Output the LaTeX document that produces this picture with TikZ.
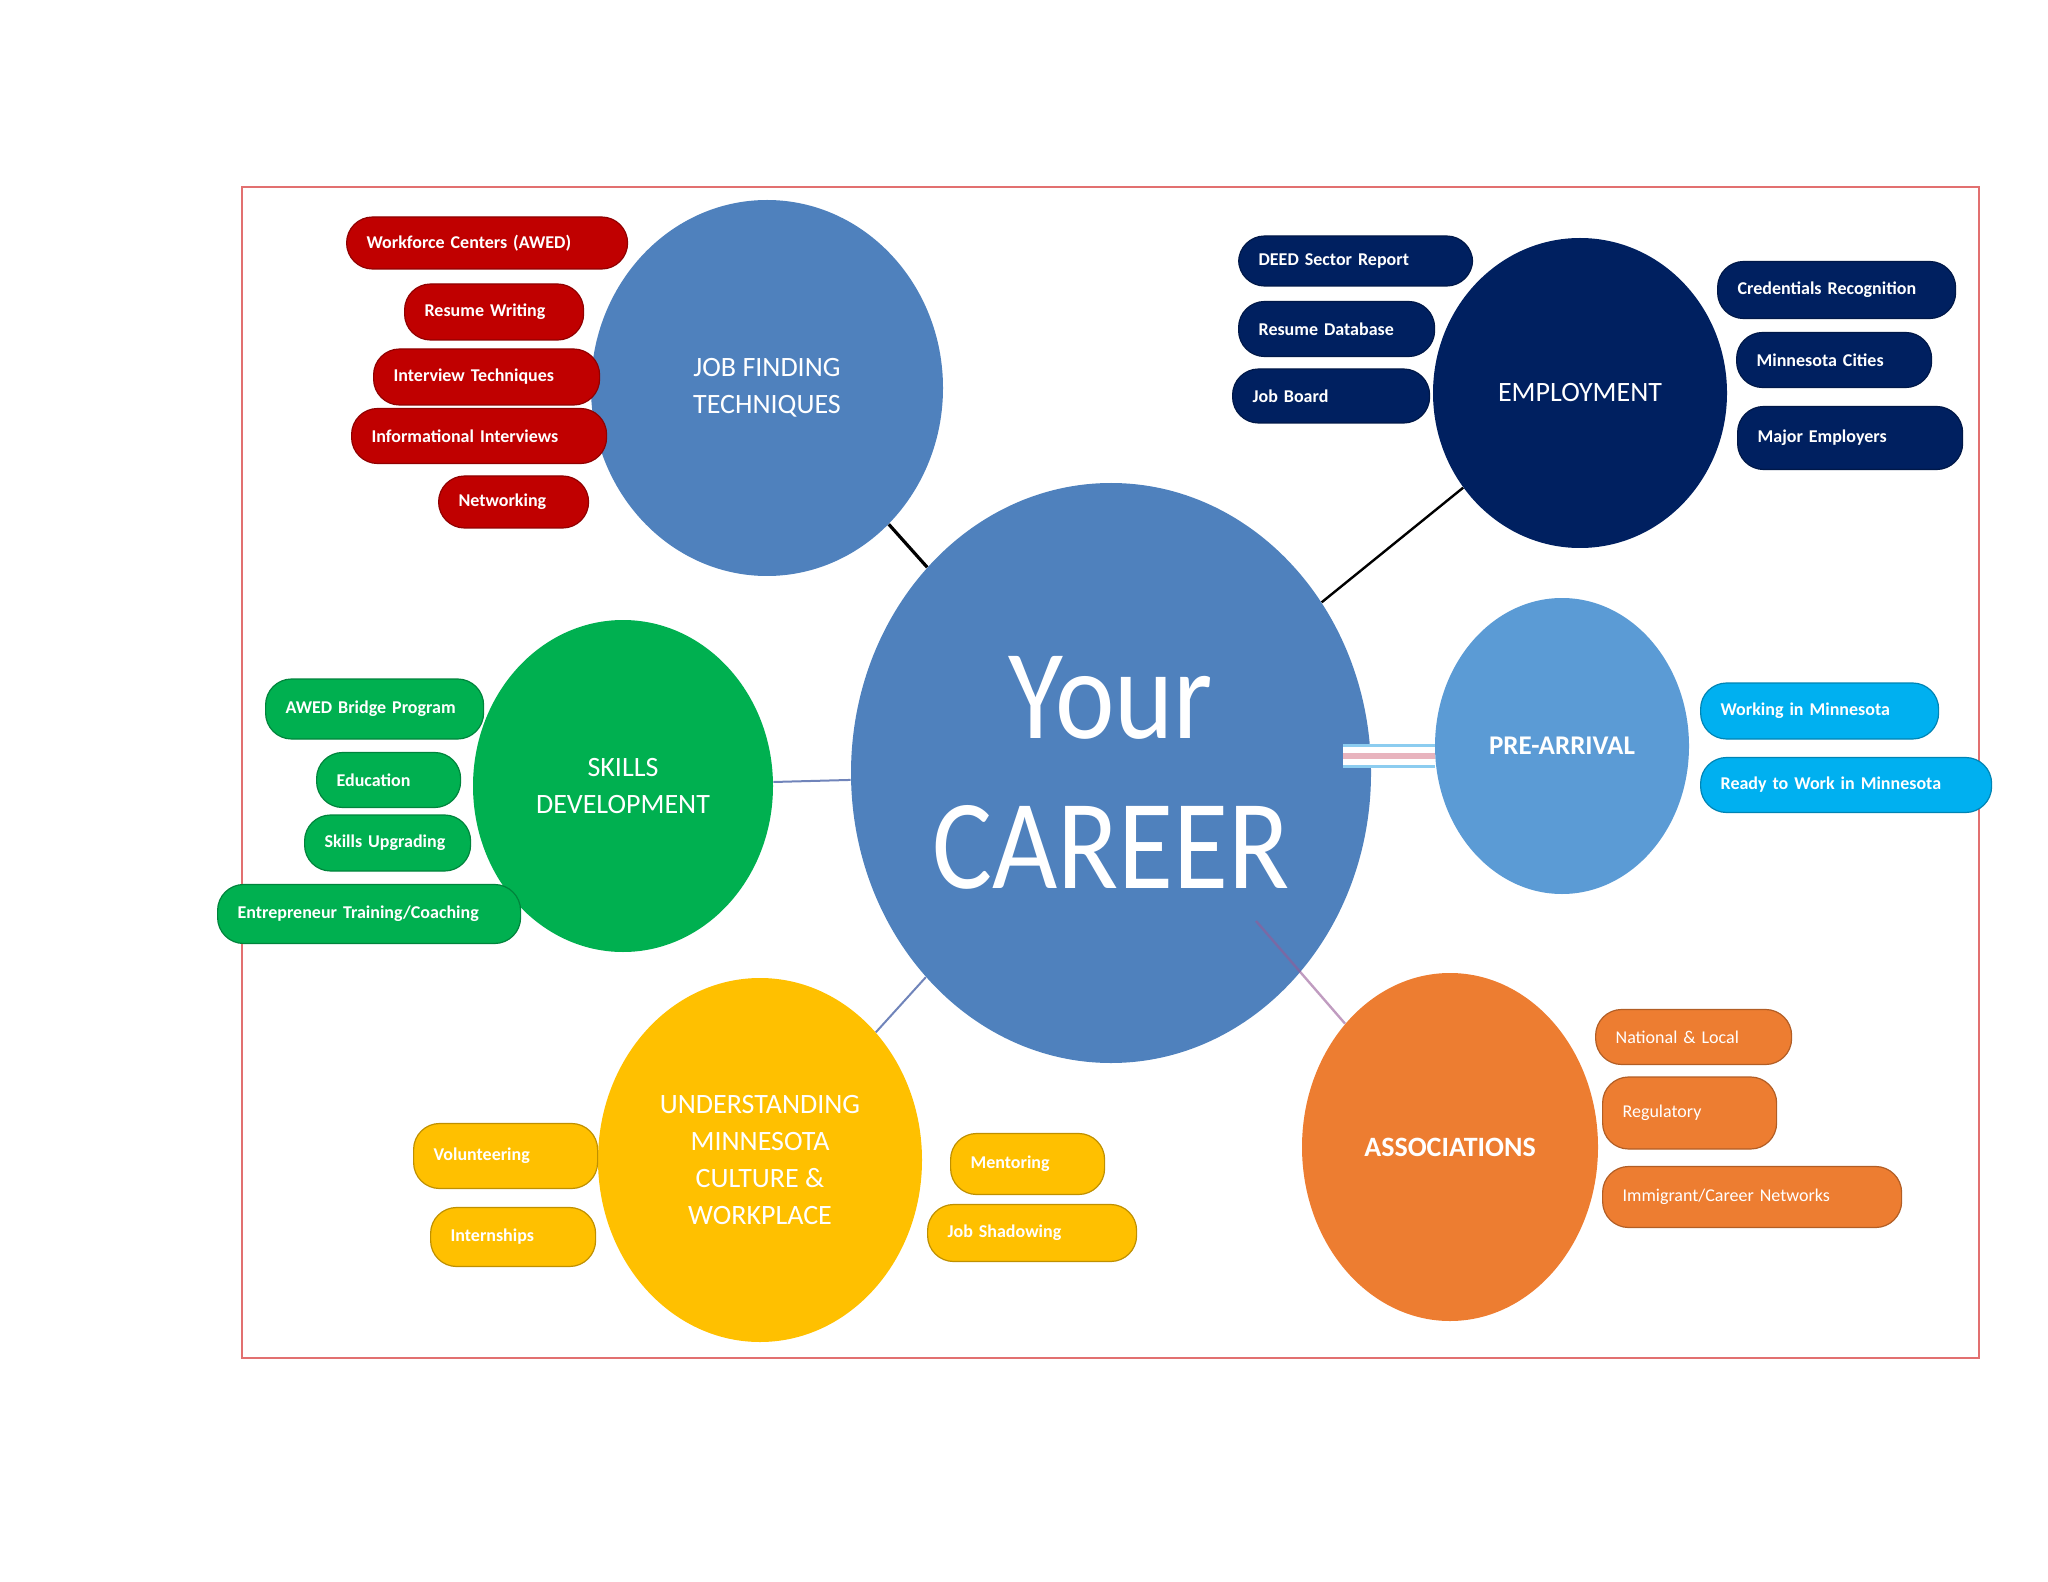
\documentclass[tikz,border=0pt]{standalone}
\usepackage{fontspec}
\setmainfont{Carlito}
\newfontfamily\condfont[FakeStretch=0.88]{Carlito}
\usetikzlibrary{shapes.geometric}

\definecolor{careerblue}{RGB}{79,129,189}
\definecolor{preblue}{RGB}{91,155,213}
\definecolor{empnavy}{RGB}{0,32,96}
\definecolor{jobred}{RGB}{192,0,0}
\definecolor{skycyan}{RGB}{0,176,240}
\definecolor{leafgreen}{RGB}{0,176,80}
\definecolor{cultgold}{RGB}{255,192,0}
\definecolor{assocorange}{RGB}{237,125,49}
\definecolor{framered}{RGB}{226,112,112}
\definecolor{steel}{RGB}{112,132,186}
\definecolor{mauve}{RGB}{150,90,150}

\tikzset{
  bubble/.style={ellipse, fill=#1, inner sep=0pt, text=white, align=center,
    font=\fontsize{14}{18.5}\selectfont},
  bigtext/.style={text=white, align=center, inner sep=0pt,
    font=\condfont\fontsize{64}{75}\selectfont},
  pill/.style={rectangle, rounded corners=13pt, fill=#1, draw=#1!75!black,
    line width=0.6pt, text=white, align=left, anchor=west, inner xsep=10pt,
    inner ysep=0pt, font=\bfseries\fontsize{9}{10}\selectfont},
  link/.style={draw=#1, line width=1.2pt},
}

\begin{document}
\begin{tikzpicture}[x=0.5pt, y=-0.5pt]
		%%%%% START %%%%%
		\useasboundingbox (0,0) rectangle (2048,1582);
		\draw[framered, line width=1pt] (242,187) rectangle (1979,1358);
		
		% bubbles
		\node[bubble=careerblue, minimum width=260pt, minimum height=290pt] (career) at (1111,773) {};
		\node[bigtext] (careerlbl) at (career) {Your\\CAREER};
		
		\node[bubble=careerblue, minimum width=176pt, minimum height=188pt] (job) at (767,388) {JOB FINDING\\TECHNIQUES};
		\node[bubble=empnavy, minimum width=147pt, minimum height=155pt] (employ) at (1580,393) {EMPLOYMENT};
		\node[bubble=preblue, minimum width=127pt, minimum height=148pt, font=\bfseries\fontsize{13.5}{16}\selectfont] (pre) at (1562,746) {PRE-ARRIVAL};
		\node[bubble=leafgreen, minimum width=150pt, minimum height=166pt] (skills) at (623,786) {SKILLS\\DEVELOPMENT};
		\node[bubble=cultgold, minimum width=162pt, minimum height=182pt] (culture) at (760,1160) {UNDERSTANDING\\MINNESOTA\\CULTURE \&\\WORKPLACE};
		\node[bubble=assocorange, minimum width=148pt, minimum height=174pt, font=\bfseries\fontsize{14}{17}\selectfont] (assoc) at (1450,1147) {ASSOCIATIONS};
		
		% job finding
		\node[pill=jobred, minimum height=26pt, text width=120.5pt] (workforce) at (346,243) {Workforce Centers (AWED)};
		\node[pill=jobred, minimum height=28pt, text width=69.5pt] (resume) at (404,312) {Resume Writing};
		\node[pill=jobred, minimum height=28pt, text width=93pt] (interview) at (373,377) {Interview Techniques};
		\node[pill=jobred, minimum height=27.5pt, text width=107.5pt] (informal) at (351,436) {Informational Interviews};
		\node[pill=jobred, minimum height=26pt, text width=55pt] (network) at (438,502) {Networking};
		
		% employment
		\node[pill=empnavy, minimum height=25pt, text width=97pt] (deed) at (1238,261) {DEED Sector Report};
		\node[pill=empnavy, minimum height=27.5pt, text width=78pt] (resdb) at (1238,329) {Resume Database};
		\node[pill=empnavy, minimum height=27pt, text width=78.5pt] (jobboard) at (1232,396) {Job Board};
		\node[pill=empnavy, minimum height=28.5pt, text width=99pt] (creds) at (1717,290) {Credentials Recognition};
		\node[pill=empnavy, minimum height=27.5pt, text width=77.5pt] (cities) at (1736,360) {Minnesota Cities};
		\node[pill=empnavy, minimum height=31.5pt, text width=92.5pt] (majors) at (1737,438) {Major Employers};
		
		% pre-arrival
		\node[pill=skycyan, minimum height=28pt, text width=99pt] (working) at (1700,711) {Working in Minnesota};
		\node[pill=skycyan, minimum height=27.5pt, text width=125.5pt] (ready) at (1700,785) {Ready to Work in Minnesota};
		
		% skills
		\node[pill=leafgreen, minimum height=30pt, text width=89pt] (bridge) at (265,709) {AWED Bridge Program};
		\node[pill=leafgreen, minimum height=27.5pt, text width=52pt] (educ) at (316,780) {Education};
		\node[pill=leafgreen, minimum height=28pt, text width=63pt] (upgrade) at (304,843) {Skills Upgrading};
		\node[pill=leafgreen, minimum height=29.5pt, text width=131.5pt] (entrep) at (217,914) {Entrepreneur Training/Coaching};
		
		% culture
		\node[pill=cultgold, minimum height=32.5pt, text width=72pt] (volunteer) at (413,1156) {Volunteering};
		\node[pill=cultgold, minimum height=29.5pt, text width=62.5pt] (intern) at (430,1237) {Internships};
		\node[pill=cultgold, minimum height=30.5pt, text width=57pt] (mentor) at (950,1164) {Mentoring};
		\node[pill=cultgold, minimum height=28.5pt, text width=84.5pt] (shadow) at (927,1233) {Job Shadowing};
		
		% associations
		\node[pill=assocorange, minimum height=27.5pt, text width=78pt, font=\fontsize{9}{10}\selectfont] (natl) at (1595,1037) {National \& Local};
		\node[pill=assocorange, minimum height=36pt, text width=67pt, font=\fontsize{9}{10}\selectfont] (regul) at (1602,1113) {Regulatory};
		\node[pill=assocorange, minimum height=30.5pt, text width=129.5pt, font=\fontsize{9}{10}\selectfont] (immig) at (1602,1197) {Immigrant/Career Networks};
		
		% links
		\draw[link=black, line width=1.6pt] (job) -- (career);
		\draw[link=black] (employ) -- (career);
		\draw[link=steel, line width=1pt] (skills) -- (career);
		\draw[link=steel, line width=1pt] (culture) -- (career);
		
		\coordinate (prefoot) at (1343,756);
		\draw[draw={rgb,255:red,140;green,205;blue,240}, line width=1.5pt, double=white, double distance=9pt] (prefoot) -- (prefoot -| pre.west);
		\draw[draw={rgb,255:red,232;green,180;blue,190}, line width=3pt] (prefoot) -- (prefoot -| pre.west);
		
		\coordinate (assocfoot) at (1256,921);
		\draw[link=mauve, opacity=0.6] (assocfoot) -- (assoc.north west);
		%%%%% END %%%%%
\end{tikzpicture}
\end{document}
